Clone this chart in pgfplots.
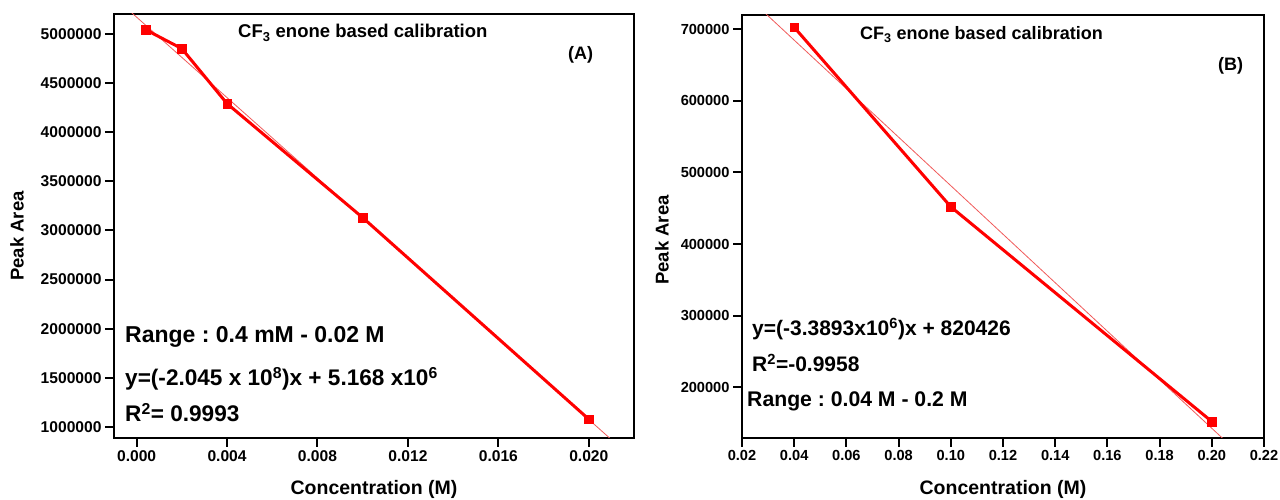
\documentclass[border=0pt]{standalone}
\usepackage{pgfplots}
\pgfplotsset{compat=1.18}
\usepackage{fontspec}
\setmainfont{Liberation Sans}
\frenchspacing
\newcommand{\fs}[1]{\fontsize{#1}{#1}\selectfont}
\definecolor{fitred}{RGB}{240,90,90}
\pgfplotsset{
  calib/.style={
    scale only axis,
    anchor=south west,
    axis line style={line width=2.7pt},
    tick align=outside,
    xtick pos=bottom,
    ytick pos=left,
    major tick length=9pt,
    tick style={line width=2pt,black},
    scaled ticks=false,
    /pgf/number format/assume math mode=true,
    clip mode=individual,
  }
}
\begin{document}
\begin{tikzpicture}[x=1pt,y=1pt]
\path[use as bounding box] (0,0) rectangle (1280,500);

% ---------- Panel A ----------
\begin{axis}[calib,
  at={(114pt,62pt)}, width=520pt, height=424pt,
  xmin=-0.001, xmax=0.022, ymin=890000, ymax=5200000,
  xtick={0,0.004,0.008,0.012,0.016,0.020},
  ytick={1000000,1500000,2000000,2500000,3000000,3500000,4000000,4500000,5000000},
  ticklabel style={font=\bfseries\fs{15.6}},
  xticklabel style={/pgf/number format/.cd,fixed,fixed zerofill,precision=3},
  yticklabel style={/pgf/number format/.cd,fixed,1000 sep={}},
]
\addplot[fitred, line width=0.8pt] coordinates {(-0.001,5372500) (0.022,669000)};
\addplot[red, line width=3pt, mark=square*, mark size=4.2pt, mark options={solid,fill=red,line width=0.4pt}]
  coordinates {(0.0004,5040000) (0.002,4848000) (0.004,4289000) (0.010,3130000) (0.020,1081000)};
\end{axis}

% ---------- Panel B ----------
\begin{axis}[calib,
  at={(742pt,62pt)}, width=522pt, height=423pt,
  xmin=0.02, xmax=0.22, ymin=129000, ymax=720000,
  xtick={0.02,0.04,0.06,0.08,0.10,0.12,0.14,0.16,0.18,0.20,0.22},
  ytick={200000,300000,400000,500000,600000,700000},
  ticklabel style={font=\bfseries\fs{14.6}},
  xticklabel style={/pgf/number format/.cd,fixed,fixed zerofill,precision=2},
  yticklabel style={/pgf/number format/.cd,fixed,1000 sep={}},
]
\addplot[fitred, line width=0.8pt] coordinates {(0.02,752640) (0.22,74780)};
\addplot[red, line width=3pt, mark=square*, mark size=4.2pt, mark options={solid,fill=red,line width=0.4pt}]
  coordinates {(0.04,702800) (0.10,452000) (0.20,152000)};
\end{axis}

% ---------- Texts Panel A ----------
\node[anchor=base west, inner sep=0pt, font=\bfseries\fs{18.5}] at (238,462) {CF\textsubscript{3} enone based calibration};
\node[anchor=base west, inner sep=0pt, font=\bfseries\fs{18}] at (568,440) {(A)};
\node[anchor=base west, inner sep=0pt, font=\bfseries\fs{23}] at (125,157) {Range : 0.4 mM - 0.02 M};
\node[anchor=base west, inner sep=0pt, font=\bfseries\fs{22.6}] at (125,114) {y=(-2.045 x 10\textsuperscript{8})x + 5.168 x10\textsuperscript{6}};
\node[anchor=base west, inner sep=0pt, font=\bfseries\fs{22.6}] at (125,78) {R\textsuperscript{2}= 0.9993};
\node[anchor=base, inner sep=0pt, font=\bfseries\fs{19.5}] at (374,5) {Concentration (M)};
\node[rotate=90, inner sep=0pt, font=\bfseries\fs{18.5}] at (17,264) {Peak Area};

% ---------- Texts Panel B ----------
\node[anchor=base west, inner sep=0pt, font=\bfseries\fs{18}] at (860,460) {CF\textsubscript{3} enone based calibration};
\node[anchor=base west, inner sep=0pt, font=\bfseries\fs{18}] at (1218,429) {(B)};
\node[anchor=base west, inner sep=0pt, font=\bfseries\fs{21}] at (752,164) {y=(-3.3893x10\textsuperscript{6})x + 820426};
\node[anchor=base west, inner sep=0pt, font=\bfseries\fs{21}] at (752,128) {R\textsuperscript{2}=-0.9958};
\node[anchor=base west, inner sep=0pt, font=\bfseries\fs{21.2}] at (747,93) {Range : 0.04 M - 0.2 M};
\node[anchor=base, inner sep=0pt, font=\bfseries\fs{19.5}] at (1003,5) {Concentration (M)};
\node[rotate=90, inner sep=0pt, font=\bfseries\fs{18.5}] at (662,260) {Peak Area};
\end{tikzpicture}
\end{document}
